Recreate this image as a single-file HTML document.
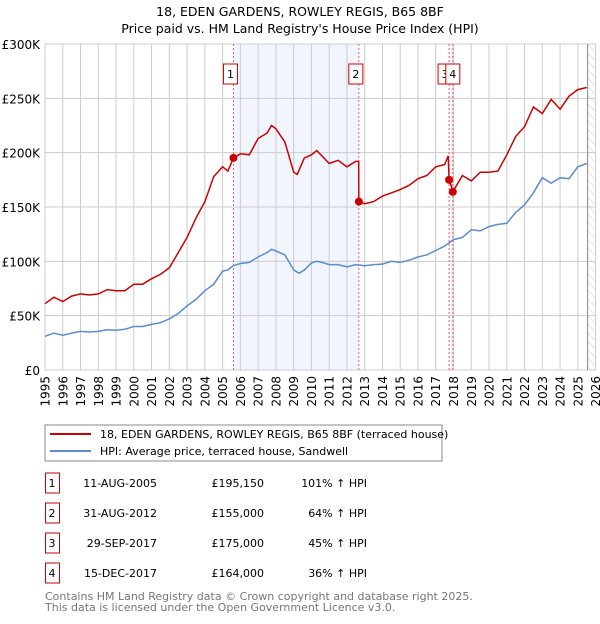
<!DOCTYPE html>
<html><head><meta charset="utf-8">
<style>
body{margin:0;background:#fff;font-family:"DejaVu Sans","Liberation Sans",sans-serif;}
svg text{font-family:"DejaVu Sans","Liberation Sans",sans-serif;}
</style></head>
<body>
<svg id="chart" width="600" height="620" viewBox="0 0 600 620" xmlns="http://www.w3.org/2000/svg">
<defs>
<pattern id="hatch" width="6" height="6" patternUnits="userSpaceOnUse" patternTransform="rotate(-45)">
<line x1="0" y1="0" x2="0" y2="6" stroke="#ccc" stroke-width="1"/>
</pattern>
</defs>
<text x="300" y="16" text-anchor="middle" font-size="12.5" fill="#000">18, EDEN GARDENS, ROWLEY REGIS, B65 8BF</text>
<text x="300" y="33" text-anchor="middle" font-size="12.5" fill="#000">Price paid vs. HM Land Registry's House Price Index (HPI)</text>
<g id="plot"></g>
<g>
<rect x="45" y="425" width="397" height="36" fill="#fff" stroke="#888" stroke-width="1"/>
<line x1="50" y1="434" x2="91" y2="434" stroke="#cc0000" stroke-width="2"/>
<text x="100" y="438" font-size="11">18, EDEN GARDENS, ROWLEY REGIS, B65 8BF (terraced house)</text>
<line x1="50" y1="451" x2="91" y2="451" stroke="#5b8bd0" stroke-width="2"/>
<text x="100" y="455" font-size="11">HPI: Average price, terraced house, Sandwell</text>
</g>
<g id="table"></g>
<text x="45" y="600" font-size="11" fill="#777">Contains HM Land Registry data © Crown copyright and database right 2025.</text>
<text x="45" y="611" font-size="11" fill="#777">This data is licensed under the Open Government Licence v3.0.</text>
</svg>
<script>
const hpiYears=[1995,1995.5,1996,1996.5,1997,1997.5,1998,1998.5,1999,1999.5,2000,2000.5,2001,2001.5,2002,2002.5,2003,2003.5,2004,2004.5,2005,2005.3,2005.6,2006,2006.5,2007,2007.5,2007.75,2008,2008.5,2009,2009.3,2009.6,2010,2010.3,2010.6,2011,2011.5,2012,2012.5,2013,2013.5,2014,2014.5,2015,2015.5,2016,2016.5,2017,2017.5,2018,2018.5,2019,2019.5,2020,2020.5,2021,2021.5,2022,2022.5,2023,2023.5,2024,2024.5,2025,2025.5];
const hpiValues=[31,34,32,34,35.5,35,35.5,37,36.5,37.5,40,40,42,43.5,47,52,59,65,73,79,91,92,96,98,99,104,108,111,109.5,106,92,89,92,98.5,100,99,97,97,95,97,96,97,97.5,100,99,101,104,106,110,114,120,122,129,128,132,134,135,145,152,163,177,172,177,176,187,190];
const priceYears=[1995,1995.5,1996,1996.5,1997,1997.5,1998,1998.5,1999,1999.5,2000,2000.5,2001,2001.5,2002,2002.5,2003,2003.5,2004,2004.5,2005,2005.3,2005.61,2006,2006.5,2007,2007.5,2007.75,2008,2008.5,2009,2009.2,2009.6,2010,2010.3,2011,2011.5,2012,2012.5,2012.66,2012.67,2013,2013.5,2014,2014.5,2015,2015.5,2016,2016.5,2017,2017.5,2017.7,2017.75,2017.9,2017.96,2018.5,2019,2019.5,2020,2020.5,2021,2021.5,2022,2022.5,2023,2023.5,2024,2024.5,2025,2025.5];
const priceValues=[61,67,63,68,70,69,70,74,73,73,79,79,84,88,94,108,122,140,155,178,187,183,195,199,198,213,218,225,222,210,182,180,195,198,202,190,193,187,192,192,155,153,155,160,163,166,170,176,179,187,189,197,175,168,164,179,174,182,182,183,198,215,224,242,236,249,240,252,258,260];
const saleYears=[2005.61,2012.67,2017.75,2017.96];
const salePrices=[195.15,155,175,164];
const saleLabels=["1","2","3","4"];
const saleDates=["11-AUG-2005","31-AUG-2012","29-SEP-2017","15-DEC-2017"];
const salePriceText=["£195,150","£155,000","£175,000","£164,000"];
const saleHpiText=["101% ↑ HPI","64% ↑ HPI","45% ↑ HPI","36% ↑ HPI"];
const yTicks=[0,50,100,150,200,250,300];
const yTickLabels=["£0","£50K","£100K","£150K","£200K","£250K","£300K"];
const xTicks=[1995,1996,1997,1998,1999,2000,2001,2002,2003,2004,2005,2006,2007,2008,2009,2010,2011,2012,2013,2014,2015,2016,2017,2018,2019,2020,2021,2022,2023,2024,2025,2026];

const NS="http://www.w3.org/2000/svg";
const L=45,R=595.6,T=44,B=370;
const X=y=>L+(y-1995)/(2026-1995)*(R-L);
const Y=v=>B-v/300*(B-T);
const plot=document.getElementById('plot');
function mk(tag,attrs,parent){const e=document.createElementNS(NS,tag);for(const k in attrs)e.setAttribute(k,attrs[k]);(parent||plot).appendChild(e);return e;}

let s=mk('rect',{x:X(saleYears[0]),y:T,width:X(saleYears[1])-X(saleYears[0]),height:B-T,fill:'#eef3fd',opacity:0.8});


s=mk('rect',{x:X(saleYears[2]),y:T,width:X(saleYears[3])-X(saleYears[2]),height:B-T,fill:'#eef3fd',opacity:0.8});


s=mk('rect',{x:X(2025.55),y:T,width:R-X(2025.55),height:B-T,fill:'url(#hatch)'});


yTicks.forEach((v,i)=>{
  const g=mk('line',{x1:L,x2:R,y1:Y(v),y2:Y(v),stroke:'#ccc','stroke-width':1});
  
  
  const t=mk('text',{x:L-5,y:Y(v)+5,'text-anchor':'end','font-size':12});
  t.textContent=yTickLabels[i];
  
  
});
xTicks.forEach(y=>{
  const g=mk('line',{x1:X(y),x2:X(y),y1:T,y2:B,stroke:'#ccc','stroke-width':1});
  
  
  const t=mk('text',{x:0,y:0,'text-anchor':'end','font-size':12,transform:`translate(${X(y)+4.5},${B+6}) rotate(-90)`});
  t.textContent=y;
  
  
});
let ln=mk('line',{x1:X(2025.55),x2:X(2025.55),y1:T,y2:B,stroke:'#888','stroke-width':1});


saleYears.forEach((y,i)=>{
  const v=mk('line',{x1:X(y),x2:X(y),y1:T,y2:B,stroke:'#f06060','stroke-width':1,'stroke-dasharray':'2,2'});
  
  
});
function path(xs,vs){return xs.map((x,i)=>(i?'L':'M')+X(x).toFixed(1)+','+Y(vs[i]).toFixed(1)).join('');}
let p=mk('path',{d:path(hpiYears,hpiValues),fill:'none',stroke:'#5b8bd0','stroke-width':1.5});


p=mk('path',{d:path(priceYears,priceValues),fill:'none',stroke:'#cc0000','stroke-width':1.5});


saleYears.forEach((y,i)=>{
  const c=mk('circle',{cx:X(y),cy:Y(salePrices[i]),r:4,fill:'#cc0000'});
  
  
  const bxx=i==2?X(y)-11:(i==3?X(y)-7:X(y)-10);
  const r=mk('rect',{x:bxx,y:64,width:14,height:20,fill:'#fff',stroke:'#cc0000','stroke-width':1});
  
  
  const t=mk('text',{x:bxx+7,y:78,'text-anchor':'middle','font-size':11});
  t.textContent=saleLabels[i];
  
  
});
const tb=document.getElementById('table');
saleLabels.forEach((l,i)=>{
  const cy=483+i*30;
  const r=mk('rect',{x:45.5,y:cy-10,width:14,height:20,fill:'#fff',stroke:'#cc0000','stroke-width':1},tb);
  
  
  const cols=[[52,'middle',l],[157,'end',saleDates[i]],[264,'end',salePriceText[i]],[367,'end',saleHpiText[i]]];
  cols.forEach((c,j)=>{
    const t=mk('text',{x:c[0],y:cy+4,'text-anchor':c[1],'font-size':11},tb);
    t.textContent=c[2];
    
    
  });
});
</script>
</body></html>
